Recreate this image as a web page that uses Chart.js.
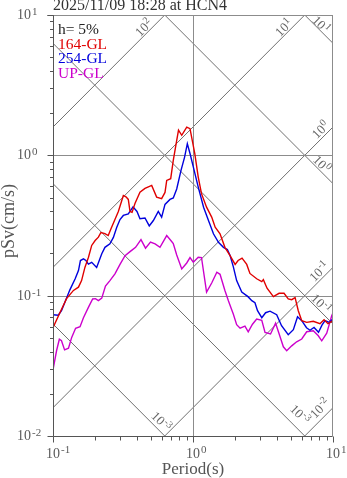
<!DOCTYPE html>
<html lang="en">
<head>
<meta charset="UTF-8">
<title>pSv spectrum</title>
<script src="https://cdn.jsdelivr.net/npm/chart.js"></script>
<style>
  html, body { margin: 0; padding: 0; background: #fff; }
  #wrap { width: 347px; height: 478px; }
</style>
</head>
<body>
<div id="wrap"><canvas id="psv" width="347" height="478"></canvas></div>
<script>
const titleText = '2025/11/09 18:28 at HCN4';
const dampingText = 'h= 5%';
const seriesNames = ['164-GL', '254-GL', 'UP-GL'];
const seriesColors = ['#e00000', '#0000dd', '#cc00cc'];

// 164-GL
const periods164 = [0.1,0.112,0.125,0.14,0.152,0.16,0.169,0.179,0.189,0.2,0.211,0.22,0.235,0.248,0.26,0.277,0.293,0.31,0.318,0.332,0.345,0.355,0.367,0.385,0.418,0.454,0.507,0.55,0.597,0.631,0.649,0.693,0.723,0.765,0.788,0.831,0.902,0.952,1.03,1.09,1.15,1.25,1.36,1.44,1.56,1.69,1.84,2.0,2.1,2.24,2.42,2.55,2.85,3.1,3.18,3.38,3.75,4.12,4.47,4.79,5.07,5.36,5.65,5.98,6.49,7.23,8.07,8.63,9.21,10];
const psv164 = [0.0591,0.0756,0.0952,0.109,0.115,0.128,0.159,0.187,0.228,0.247,0.261,0.282,0.277,0.268,0.301,0.349,0.398,0.477,0.518,0.506,0.485,0.398,0.392,0.454,0.547,0.581,0.611,0.504,0.491,0.544,0.663,0.682,0.921,1.28,1.51,1.39,1.59,1.55,1.03,0.70,0.533,0.427,0.363,0.308,0.276,0.221,0.193,0.167,0.178,0.185,0.167,0.144,0.132,0.126,0.130,0.113,0.0984,0.104,0.104,0.0947,0.0936,0.0968,0.0781,0.0663,0.0645,0.0657,0.0631,0.0674,0.0631,0.0663];

// 254-GL
const periods254 = [0.1,0.109,0.115,0.122,0.132,0.144,0.152,0.157,0.165,0.172,0.179,0.189,0.205,0.223,0.235,0.255,0.27,0.285,0.301,0.318,0.345,0.373,0.398,0.418,0.454,0.487,0.521,0.565,0.597,0.631,0.685,0.723,0.765,0.821,0.87,0.911,0.952,1.005,1.09,1.19,1.29,1.4,1.52,1.65,1.76,1.84,1.94,2.05,2.23,2.47,2.63,2.77,2.89,3.1,3.3,3.55,3.96,4.29,4.79,5.21,5.58,5.98,6.47,6.85,7.32,7.88,8.34,8.77,9.41,10];
const psv254 = [0.0732,0.0726,0.0781,0.0906,0.110,0.132,0.151,0.178,0.183,0.178,0.168,0.173,0.159,0.199,0.221,0.234,0.260,0.306,0.349,0.373,0.383,0.429,0.398,0.353,0.358,0.314,0.343,0.398,0.363,0.447,0.485,0.497,0.576,0.781,0.968,1.21,1.03,0.828,0.594,0.427,0.343,0.276,0.240,0.221,0.213,0.193,0.161,0.128,0.106,0.0984,0.0921,0.0891,0.0781,0.0697,0.0756,0.0775,0.0732,0.0611,0.0527,0.0572,0.0708,0.0663,0.0591,0.0567,0.0594,0.0549,0.0616,0.0663,0.0645,0.0685];

// UP-GL
const periodsUP = [0.1,0.106,0.111,0.115,0.121,0.129,0.136,0.145,0.156,0.165,0.179,0.192,0.201,0.211,0.223,0.237,0.255,0.277,0.301,0.327,0.355,0.389,0.425,0.458,0.497,0.536,0.581,0.649,0.704,0.723,0.765,0.831,0.902,0.952,1.005,1.09,1.15,1.25,1.36,1.48,1.56,1.69,1.79,1.89,1.94,2.05,2.17,2.35,2.48,2.66,2.85,3.1,3.27,3.58,3.89,4.12,4.42,4.67,5.07,5.5,5.98,6.49,7.23,7.85,8.31,9.02,9.79,10];
const psvUP = [0.0296,0.0405,0.0489,0.0477,0.0411,0.0422,0.0504,0.0586,0.0601,0.0697,0.0825,0.0947,0.0952,0.0921,0.096,0.117,0.128,0.143,0.167,0.193,0.206,0.221,0.251,0.218,0.241,0.234,0.221,0.268,0.243,0.235,0.195,0.155,0.171,0.187,0.173,0.188,0.187,0.106,0.123,0.147,0.142,0.109,0.0921,0.0794,0.074,0.0621,0.0586,0.0606,0.0553,0.0626,0.0682,0.0668,0.0547,0.0533,0.0636,0.0535,0.0432,0.0405,0.0439,0.0469,0.0491,0.0553,0.0562,0.0518,0.0477,0.054,0.072,0.0756];

// axes (decade exponents)
const xDecades = [-1, 0, 1];
const yDecades = [-2, -1, 0, 1];
// tripartite reference lines: displacement (cm) and acceleration (cm/s^2)
const dispExps = [-3, -2, -1, 0, 1];
const accExps = [-2, -1, 0, 1, 2];
const diagLabels = [
  { kind: 'acc', exp: 2, text: '2', along: 24, perp: 6 },
  { kind: 'acc', exp: 1, text: '1', along: 24, perp: 6 },
  { kind: 'acc', exp: 0, text: '0', along: 11, perp: 7 },
  { kind: 'acc', exp: -1, text: '-1', along: 13, perp: 7 },
  { kind: 'acc', exp: -2, text: '-2', along: 10, perp: 9 },
  { kind: 'disp', exp: 1, text: '1', along: 22, perp: 5 },
  { kind: 'disp', exp: 0, text: '0', along: 22, perp: 6 },
  { kind: 'disp', exp: -1, text: '-1', along: 23, perp: 6 },
  { kind: 'disp', exp: -2, text: '-3', along: 19, perp: 12 },
  { kind: 'disp', exp: -3, text: '-3', along: 13, perp: 8 }
];

const SERIF = "'Liberation Serif', 'Times New Roman', serif";
const TWO_PI = 2 * Math.PI;

function toPoints(xs, ys) {
  return xs.map((x, i) => ({ x: x, y: ys[i] }));
}

// "10" with a raised exponent, centred on (x, y), optionally rotated
function drawPow(ctx, exp, x, y, angle, size, supSize, color) {
  ctx.save();
  ctx.translate(x, y);
  ctx.rotate(angle);
  ctx.fillStyle = color;
  ctx.textBaseline = 'middle';
  ctx.textAlign = 'left';
  ctx.font = size + 'px ' + SERIF;
  const w1 = ctx.measureText('10').width;
  ctx.font = supSize + 'px ' + SERIF;
  const w2 = ctx.measureText(exp).width;
  const x0 = -(w1 + w2) / 2;
  ctx.font = size + 'px ' + SERIF;
  ctx.fillText('10', x0, 1);
  ctx.font = supSize + 'px ' + SERIF;
  ctx.fillText(exp, x0 + w1 + 0.5, -3);
  ctx.restore();
}

const psvPlugin = {
  id: 'psvFrame',
  beforeDatasetsDraw(chart) {
    const ctx = chart.ctx;
    const a = chart.chartArea;
    const xs = chart.scales.x, ys = chart.scales.y;
    ctx.save();
    ctx.beginPath();
    ctx.rect(a.left, a.top, a.right - a.left, a.bottom - a.top);
    ctx.clip();
    // diagonal lines
    ctx.strokeStyle = '#707070';
    ctx.lineWidth = 1;
    const tLo = 0.01, tHi = 100;
    dispExps.forEach(k => {
      const D = Math.pow(10, k);
      ctx.beginPath();
      ctx.moveTo(xs.getPixelForValue(tLo), ys.getPixelForValue(TWO_PI * D / tLo));
      ctx.lineTo(xs.getPixelForValue(tHi), ys.getPixelForValue(TWO_PI * D / tHi));
      ctx.stroke();
    });
    accExps.forEach(k => {
      const A = Math.pow(10, k);
      ctx.beginPath();
      ctx.moveTo(xs.getPixelForValue(tLo), ys.getPixelForValue(A * tLo / TWO_PI));
      ctx.lineTo(xs.getPixelForValue(tHi), ys.getPixelForValue(A * tHi / TWO_PI));
      ctx.stroke();
    });
    // major grid
    ctx.strokeStyle = '#8c8c8c';
    yDecades.forEach(n => {
      const y = Math.round(ys.getPixelForValue(Math.pow(10, n))) + 0.5;
      ctx.beginPath(); ctx.moveTo(a.left, y); ctx.lineTo(a.right, y); ctx.stroke();
    });
    xDecades.forEach(n => {
      const x = Math.round(xs.getPixelForValue(Math.pow(10, n))) + 0.5;
      ctx.beginPath(); ctx.moveTo(x, a.top); ctx.lineTo(x, a.bottom); ctx.stroke();
    });
    ctx.restore();
  },
  afterDatasetsDraw(chart) {
    const ctx = chart.ctx;
    const a = chart.chartArea;
    const xs = chart.scales.x, ys = chart.scales.y;
    const L = Math.round(a.left) + 0.5, B = Math.round(a.bottom) + 0.5;
    const T = Math.round(a.top) + 0.5, R = Math.round(a.right) - 0.5;
    ctx.save();
    // frame
    ctx.lineWidth = 1;
    ctx.strokeStyle = '#8c8c8c';
    ctx.beginPath(); ctx.moveTo(L, T); ctx.lineTo(R, T); ctx.lineTo(R, B); ctx.stroke();
    ctx.strokeStyle = '#555';
    ctx.beginPath(); ctx.moveTo(L - 6, T); ctx.lineTo(L, T); ctx.lineTo(L, B); ctx.lineTo(R, B); ctx.stroke();
    // ticks
    for (let n = yDecades[0]; n <= yDecades[yDecades.length - 1]; n++) {
      for (let m = 1; m <= 9; m++) {
        const v = m * Math.pow(10, n);
        if (v > 10.001) break;
        const y = Math.round(ys.getPixelForValue(v)) + 0.5;
        const len = m === 1 ? 6 : 3.5;
        ctx.beginPath(); ctx.moveTo(L - len, y); ctx.lineTo(L, y); ctx.stroke();
      }
    }
    for (let n = xDecades[0]; n <= xDecades[xDecades.length - 1]; n++) {
      for (let m = 1; m <= 9; m++) {
        const v = m * Math.pow(10, n);
        if (v > 10.001) break;
        const x = Math.round(xs.getPixelForValue(v)) + 0.5;
        const len = m === 1 ? 6 : 4;
        ctx.beginPath(); ctx.moveTo(x, B); ctx.lineTo(x, B + len); ctx.stroke();
      }
    }
    // tick labels
    ctx.fillStyle = '#5a5a5a';
    ctx.textBaseline = 'alphabetic';
    yDecades.forEach(n => {
      const y = ys.getPixelForValue(Math.pow(10, n));
      ctx.font = '14px ' + SERIF;
      ctx.textAlign = 'left';
      ctx.fillText('10', 17, y + 4);
      const w = ctx.measureText('10').width;
      ctx.font = '11px ' + SERIF;
      ctx.fillText(String(n), 17 + w + 1, y);
    });
    xDecades.forEach(n => {
      const x = xs.getPixelForValue(Math.pow(10, n));
      ctx.font = '14px ' + SERIF;
      ctx.textAlign = 'left';
      const w = ctx.measureText('10').width;
      ctx.fillText('10', x - w / 2, 457.5);
      ctx.font = '11px ' + SERIF;
      ctx.fillText(String(n), x + w / 2 + 1, 452.5);
    });
    // axis titles
    ctx.fillStyle = '#555';
    ctx.font = '17px ' + SERIF;
    ctx.textAlign = 'center';
    ctx.fillText('Period(s)', (a.left + a.right) / 2, 474);
    ctx.save();
    ctx.translate(14, 221);
    ctx.rotate(-Math.PI / 2);
    ctx.font = '18px ' + SERIF;
    ctx.fillText('pSv(cm/s)', 0, 0);
    ctx.restore();
    // diagonal labels
    const s = Math.SQRT1_2;
    diagLabels.forEach(lb => {
      const k = Math.pow(10, lb.exp);
      let tEnd, vEnd, px, py, cx, cy, ang;
      if (lb.kind === 'acc') {
        tEnd = Math.min(xs.max, TWO_PI * ys.max / k);
        vEnd = k * tEnd / TWO_PI;
        px = xs.getPixelForValue(tEnd); py = ys.getPixelForValue(vEnd);
        cx = px - lb.along * s - lb.perp * s;
        cy = py + lb.along * s - lb.perp * s;
        ang = -Math.PI / 4;
      } else {
        tEnd = Math.min(xs.max, TWO_PI * k / ys.min);
        vEnd = TWO_PI * k / tEnd;
        px = xs.getPixelForValue(tEnd); py = ys.getPixelForValue(vEnd);
        cx = px - lb.along * s + lb.perp * s;
        cy = py - lb.along * s - lb.perp * s;
        ang = Math.PI / 4;
      }
      drawPow(ctx, lb.text, cx, cy, ang, 13, 10, '#666');
    });
    // title
    ctx.textAlign = 'left';
    ctx.fillStyle = '#333';
    ctx.font = '16px ' + SERIF;
    ctx.fillText(titleText, 53, 10);
    // legend
    ctx.font = '15.5px ' + SERIF;
    ctx.fillStyle = '#222';
    ctx.fillText(dampingText, 58, 34);
    seriesNames.forEach((nm, i) => {
      ctx.fillStyle = seriesColors[i];
      ctx.fillText(nm, 58, 48.5 + i * 14.7);
    });
    ctx.restore();
  }
};

new Chart(document.getElementById('psv'), {
  type: 'line',
  data: {
    datasets: [
      { label: seriesNames[0], data: toPoints(periods164, psv164), borderColor: seriesColors[0] },
      { label: seriesNames[1], data: toPoints(periods254, psv254), borderColor: seriesColors[1] },
      { label: seriesNames[2], data: toPoints(periodsUP, psvUP), borderColor: seriesColors[2] }
    ]
  },
  options: {
    responsive: false,
    animation: false,
    layout: { padding: { left: 53, top: 15, right: 14, bottom: 42 } },
    elements: {
      line: { borderWidth: 1.4, tension: 0, fill: false },
      point: { radius: 0 }
    },
    scales: {
      x: { type: 'logarithmic', min: 0.1, max: 10, display: false },
      y: { type: 'logarithmic', min: 0.01, max: 10, display: false }
    },
    plugins: {
      legend: { display: false },
      tooltip: { enabled: false }
    }
  },
  plugins: [psvPlugin]
});
</script>
</body>
</html>
